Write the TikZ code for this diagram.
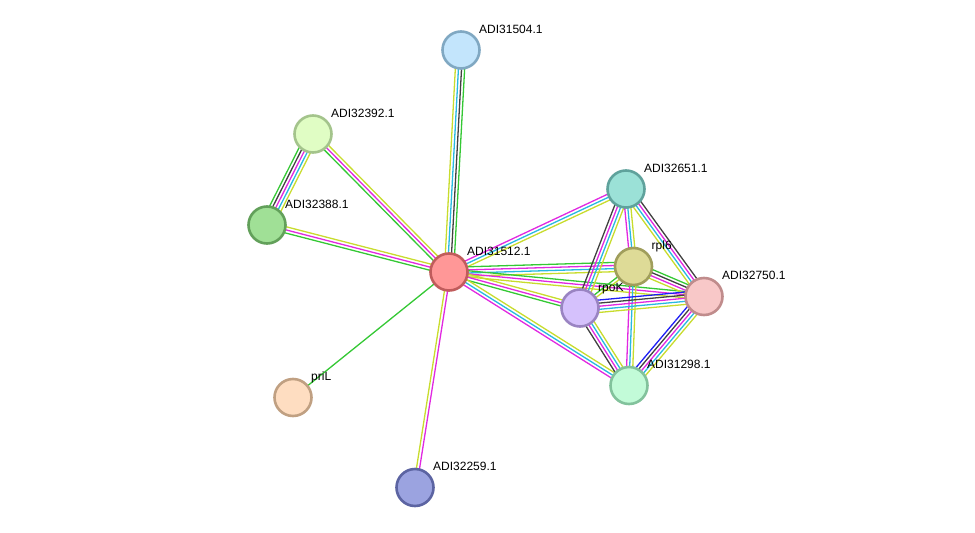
\documentclass[tikz,border=0pt]{standalone}
\usepackage{fontspec}
\setmainfont{Liberation Sans}
\usetikzlibrary{calc}
\pgfdeclarelayer{background}
\pgfsetlayers{background,main}
\definecolor{eg}{RGB}{52,200,52}
\definecolor{em}{RGB}{225,40,225}
\definecolor{ec}{RGB}{40,185,225}
\definecolor{ey}{RGB}{200,220,45}
\definecolor{ek}{RGB}{65,65,65}
\definecolor{eb}{RGB}{30,30,245}
\tikzset{
  prot/.style={circle, minimum size=37pt, inner sep=0pt, line width=2.6pt},
  lbl/.style={anchor=base west, inner sep=0pt, font=\fontsize{12}{14}\selectfont},
  chan/.style={line width=1.3pt}
}
\newcommand\sedge[4]{%
  \foreach \c [count=\i] in {#4} {%
    \pgfmathsetmacro\off{(\i-1-(#3-1)/2)*3.1}%
    \draw[chan, draw=\c] ($(#1.center)!\off pt!90:(#2.center)$) -- ($(#2.center)!\off pt!-90:(#1.center)$);
  }%
}
\newcommand\prot[6]{% name, x, y, fill, draw, label
  \definecolor{f#1}{HTML}{#4}\definecolor{d#1}{HTML}{#5}%
  \node[prot, fill=f#1, draw=d#1] (#1) at (#2,#3) {};
  \node[lbl] (#1-l) at (#2+18,#3-17) {#6};
}
\begin{document}
\begin{tikzpicture}[x=1pt,y=-1pt]
\useasboundingbox (0,0) rectangle (975,533);
\prot{n31504}{461}{50}{C3E5FC}{80A8C2}{ADI31504.1}
\prot{n32392}{313}{134}{E0FDC4}{A4C48C}{ADI32392.1}
\prot{n32388}{267}{225}{A0E096}{62A05A}{ADI32388.1}
\prot{n31512}{449}{272}{FF9797}{C05C5C}{ADI31512.1}
\prot{n32651}{626}{189}{9BE1D7}{5FA29C}{ADI32651.1}
\prot{rpl}{633.5}{266.5}{DEDB97}{A09E5C}{rpl6}
\prot{rpoK}{580}{308}{D5C1FC}{9A84C2}{rpoK}
\prot{n32750}{704}{296.5}{F8C8C8}{C08C8C}{ADI32750.1}
\prot{n31298}{629}{385.5}{C2FBD8}{82C29C}{ADI31298.1}
\prot{priL}{293}{397.5}{FEDDC1}{C0A082}{priL}
\prot{n32259}{415}{487.5}{9BA3E0}{5C64A2}{ADI32259.1}
\begin{pgfonlayer}{background}
\sedge{n31504}{n31512}{4}{ey,ec,ek,eg}
\sedge{n32392}{n32388}{5}{eg,ek,em,ec,ey}
\sedge{n32392}{n31512}{3}{eg,em,ey}
\sedge{n32388}{n31512}{3}{eg,em,ey}
\sedge{n31512}{n32651}{3}{ey,ec,em}
\sedge{n31512}{rpl}{4}{ey,ec,em,eg}
\sedge{n31512}{n32750}{3}{ey,em,eg}
\sedge{n31512}{rpoK}{3}{eg,em,ey}
\sedge{n31512}{n31298}{3}{em,ec,ey}
\sedge{n31512}{priL}{1}{eg}
\sedge{n31512}{n32259}{2}{ey,em}
\sedge{n32651}{rpl}{3}{em,ec,ey}
\sedge{n32651}{rpoK}{4}{ek,em,ec,ey}
\sedge{n32651}{n32750}{4}{ey,ec,em,ek}
\sedge{rpl}{rpoK}{2}{eg,ey}
\sedge{rpl}{n32750}{4}{ey,em,ek,eg}
\sedge{rpl}{n31298}{3}{em,ec,ey}
\sedge{rpoK}{n32750}{5}{ey,ec,em,ek,eb}
\sedge{rpoK}{n31298}{4}{ek,em,ec,ey}
\sedge{n32750}{n31298}{5}{eb,ek,em,ec,ey}
\end{pgfonlayer}
\end{tikzpicture}
\end{document}
